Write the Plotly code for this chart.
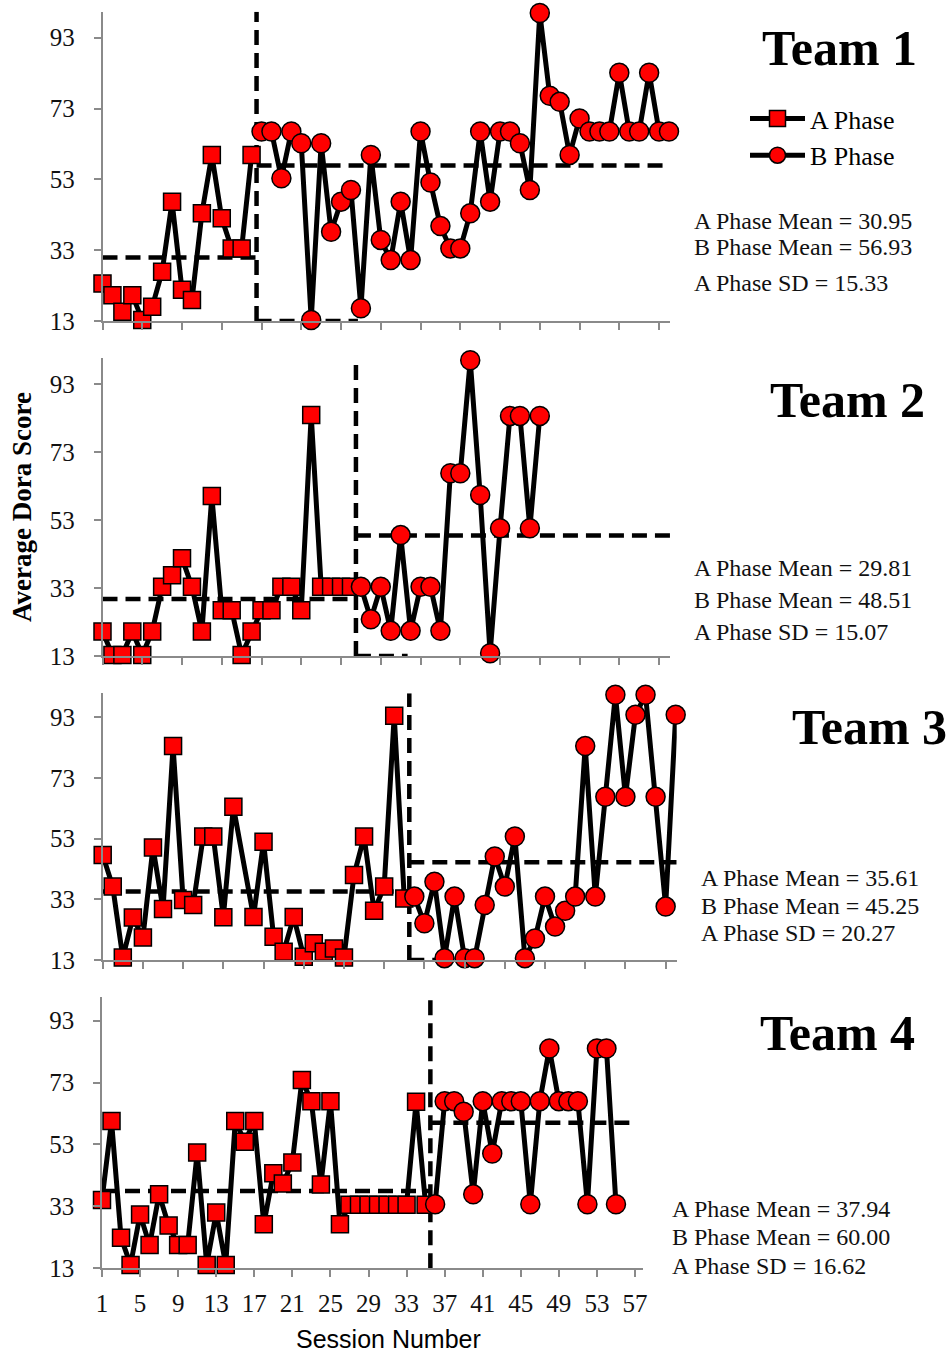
import plotly.graph_objects as go

# ---------------- data ----------------
teams = ["Team 1", "Team 2", "Team 3", "Team 4"]

team1_a = [23.6, 20.3, 15.6, 20.3, 13.3, 17.0, 26.9, 46.7, 21.8, 18.9, 43.4, 59.9, 42.0, 33.5, 33.5, 59.9]
team1_b = [66.5, 66.5, 53.3, 66.5, 63.2, 13.3, 63.2, 38.2, 46.7, 50.0, 16.6,
           59.9, 35.9, 30.2, 46.7, 30.2, 66.5, 52.1, 39.8, 33.5, 33.5, 43.4, 66.5, 46.7,
           66.5, 66.5, 63.2, 50.0, 100.0, 76.6, 74.9, 59.9, 70.2, 66.5, 66.5, 66.5, 83.1,
           66.5, 66.5, 83.1, 66.5, 66.5]

team2_a = [20.2, 13.3, 13.3, 20.2, 13.3, 20.2, 33.4, 36.8, 41.8, 33.4, 20.2, 60.1, 26.5,
           26.5, 13.3, 20.2, 26.5, 26.5, 33.4, 33.4, 26.5, 84.0, 33.4, 33.4, 33.4, 33.4]
team2_b = [33.4, 23.8, 33.4, 20.4, 48.6, 20.4, 33.4, 33.4, 20.4, 66.8, 66.8, 100.1, 60.4,
           13.8, 50.6, 83.7, 83.7, 50.6, 83.7]

team3_a = [47.6, 37.2, 13.8, 27.0, 20.4, 50.1, 29.8, 83.5, 32.8, 31.1, 53.7, 53.7, 27.1,
           63.5, None, 27.2, 52.0, 20.7, 15.7, 27.2, 14.1, 18.5, 15.7, 16.8, 13.8, 41.0,
           53.7, 29.2, 37.2, 93.5, 33.3]
team3_b = [33.9, 25.1, 38.8, 13.6, 33.9, 13.6, 13.6, 31.1, 47.1, 37.2, 53.7, 13.6, 20.1,
           33.9, 24.0, 29.2, 33.9, 83.5, 33.9, 66.8, 100.4, 66.8, 93.8, 100.4, 66.8, 30.6, 93.8]

team4_a = [35.1, 60.6, 22.9, 14.1, 30.4, 20.5, 36.9, 26.8, 20.5, 20.5, 50.4, 14.1, 31.0,
           14.1, 60.6, 53.9, 60.6, 27.2, 43.7, 40.4, 47.2, 73.8, 67.0, 40.1, 67.0, 27.2,
           33.5, 33.5, 33.5, 33.5, 33.5, 33.5, 33.5, 66.8, 33.5]
team4_b = [33.7, 67.0, 67.0, 63.6, 36.9, 67.0, 50.1, 67.0, 67.0, 67.0, 33.7, 67.0, 84.0,
           67.0, 67.0, 67.0, 33.7, 84.0, 84.0, 33.7]

a_phase = [team1_a, team2_a, team3_a, team4_a]
b_phase = [team1_b, team2_b, team3_b, team4_b]
a_mean = [30.95, 29.81, 35.61, 37.94]
b_mean = [56.93, 48.51, 45.25, 60.00]
a_sd = [15.33, 15.07, 20.27, 16.62]
phase_change = [16.5, 26.5, 31.5, 35.5]
floor_dash_end = [26.7, 31.7, 35.3, None]
b_mean_end = [58.1, 58.1, 58.1, 57.2]

y_ticks = [13, 33, 53, 73, 93]
x_ticks = [1, 5, 9, 13, 17, 21, 25, 29, 33, 37, 41, 45, 49, 53, 57]

# ---------------- layout geometry (pixels) ----------------
W, H = 946, 1354
panels = [
    dict(x0=102.5, x1=670.0, xmax=58.1, ybot=321.0, ytop=11.7, ymax=100.35),
    dict(x0=102.5, x1=670.0, xmax=58.1, ybot=656.0, ytop=358.0, ymax=100.75),
    dict(x0=102.7, x1=676.7, xmax=58.1, ybot=960.0, ytop=693.3, ymax=100.9),
    dict(x0=102.0, x1=643.0, xmax=57.84, ybot=1268.3, ytop=996.7, ymax=100.75),
]

def PX(px):
    return px / W

def PY(py):
    return 1 - py / H

SERIF = "Liberation Serif"
AXIS_GREY = "#8a8a8a"
DASH = "15px,8px"

fig = go.Figure()
layout = dict(
    width=W, height=H,
    margin=dict(l=0, r=0, t=0, b=0, pad=0, autoexpand=False),
    paper_bgcolor="white", plot_bgcolor="white",
    showlegend=True,
)

for i in range(4):
    k = i + 1
    xa = "x" if k == 1 else f"x{k}"
    ya = "y" if k == 1 else f"y{k}"
    g = panels[i]
    pc = phase_change[i]
    a = a_phase[i]
    b = b_phase[i]
    xs_a = list(range(1, len(a) + 1))
    xs_b = list(range(len(a) + 1, len(a) + len(b) + 1))

    dline = dict(color="black", width=4.5, dash=DASH)
    # phase change line
    fig.add_trace(go.Scatter(x=[pc, pc], y=[13, g["ymax"]], mode="lines", line=dline,
                             xaxis=xa, yaxis=ya, showlegend=False, hoverinfo="skip",
                             cliponaxis=False))
    if floor_dash_end[i] is not None:
        fig.add_trace(go.Scatter(x=[pc, floor_dash_end[i]], y=[13, 13], mode="lines",
                                 line=dline, xaxis=xa, yaxis=ya, showlegend=False,
                                 hoverinfo="skip", cliponaxis=False))
    # means
    fig.add_trace(go.Scatter(x=[1, pc], y=[a_mean[i], a_mean[i]], mode="lines", line=dline,
                             xaxis=xa, yaxis=ya, showlegend=False, hoverinfo="skip"))
    fig.add_trace(go.Scatter(x=[pc, b_mean_end[i]], y=[b_mean[i], b_mean[i]], mode="lines",
                             line=dline, xaxis=xa, yaxis=ya, showlegend=False,
                             hoverinfo="skip", cliponaxis=False))
    # data
    fig.add_trace(go.Scatter(
        x=xs_a, y=a, mode="lines+markers", name="A Phase", connectgaps=True,
        line=dict(color="black", width=5),
        marker=dict(symbol="square", size=17, color="#ff0000",
                    line=dict(color="black", width=1.5)),
        xaxis=xa, yaxis=ya, showlegend=(k == 1), cliponaxis=False, legendgroup="a"))
    fig.add_trace(go.Scatter(
        x=xs_b, y=b, mode="lines+markers", name="B Phase",
        line=dict(color="black", width=5),
        marker=dict(symbol="circle", size=19, color="#ff0000",
                    line=dict(color="black", width=1.5)),
        xaxis=xa, yaxis=ya, showlegend=(k == 1), cliponaxis=False, legendgroup="b"))

    layout["xaxis" if k == 1 else f"xaxis{k}"] = dict(
        domain=[PX(g["x0"]), PX(g["x1"])], range=[1, g["xmax"]], anchor=ya,
        showline=True, linecolor=AXIS_GREY, linewidth=1.5,
        ticks="outside", tickvals=x_ticks, ticklen=7, tickwidth=1.5, tickcolor=AXIS_GREY,
        showgrid=False, zeroline=False, showticklabels=(k == 4), automargin=False,
        tickfont=dict(family=SERIF, size=25, color="#111"), ticklabelstandoff=5,
    )
    layout["yaxis" if k == 1 else f"yaxis{k}"] = dict(
        domain=[PY(g["ybot"]), PY(g["ytop"])], range=[13, g["ymax"]], anchor=xa,
        showline=True, linecolor=AXIS_GREY, linewidth=1.5,
        ticks="outside", tickvals=y_ticks, ticklen=7, tickwidth=1.5, tickcolor=AXIS_GREY,
        showgrid=False, zeroline=False, automargin=False,
        tickfont=dict(family=SERIF, size=25, color="#111"), ticklabelstandoff=14,
    )

# ---------------- text ----------------
ann = []
title_pos = [(760, 48), (768, 400), (790, 727), (758, 1033)]
for i, t in enumerate(teams):
    ann.append(dict(text=f"<b>{t}</b>", x=PX(title_pos[i][0]), y=PY(title_pos[i][1]),
                    xref="paper", yref="paper", xanchor="left", yanchor="middle",
                    showarrow=False, font=dict(family=SERIF, size=50, color="black")))

stat_pos = [
    (692, [221, 247, 283]),
    (692, [568, 600, 632]),
    (699, [878, 906, 933]),
    (670, [1209, 1237, 1266]),
]
for i in range(4):
    lines = [f"A Phase Mean = {a_mean[i]:.2f}", f"B Phase Mean = {b_mean[i]:.2f}",
             f"A Phase SD = {a_sd[i]:.2f}"]
    x0, ys = stat_pos[i]
    for txt, yy in zip(lines, ys):
        ann.append(dict(text=txt, x=PX(x0), y=PY(yy), xref="paper", yref="paper",
                        xanchor="left", yanchor="middle", showarrow=False,
                        font=dict(family=SERIF, size=24, color="#111")))

ann.append(dict(text="<b>Average Dora Score</b>", x=PX(22), y=PY(507), xref="paper",
                yref="paper", xanchor="center", yanchor="middle", textangle=-90,
                showarrow=False, font=dict(family=SERIF, size=27, color="black")))
ann.append(dict(text="Session Number", x=PX(388), y=PY(1354), xref="paper", yref="paper",
                xanchor="center", yanchor="bottom", showarrow=False, borderpad=0,
                font=dict(family="Liberation Sans", size=25, color="black")))

layout["annotations"] = ann
layout["legend"] = dict(x=PX(745), y=PY(95), xanchor="left", yanchor="top",
                        font=dict(family=SERIF, size=26, color="black"),
                        bgcolor="rgba(0,0,0,0)", itemwidth=55, tracegroupgap=0)

fig.update_layout(**layout)
fig.write_html("out.html")
